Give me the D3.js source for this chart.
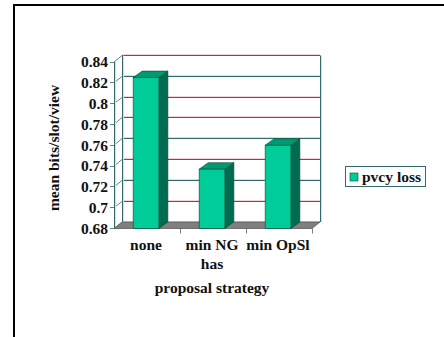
<!DOCTYPE html>
<html>
<head>
<meta charset="utf-8">
<script src="https://cdn.jsdelivr.net/npm/d3@7"></script>
<style>
  html, body { margin: 0; padding: 0; background: #fff; }
  svg { display: block; }
  text { font-family: "Liberation Serif", "Times New Roman", serif; font-weight: bold; fill: #111; }
</style>
</head>
<body>
<svg id="chart" width="444" height="337"></svg>
<script>
// Data
const categories = ["none", "min NG\nhas", "min OpSl"];
const pvcyLoss = [0.825, 0.737, 0.760];
const yTicks = [0.68, 0.70, 0.72, 0.74, 0.76, 0.78, 0.80, 0.82, 0.84];
const seriesName = "pvcy loss";
const xTitle = "proposal strategy";
const yTitle = "mean bits/slot/view";

const svg = d3.select("#chart");
const fs = 15.5;

// outer frame (top and left edges)
svg.append("path")
  .attr("d", "M14,337 L14,5 L444,5")
  .attr("fill", "none").attr("stroke", "#000").attr("stroke-width", 2);

// 3D geometry: front plane via scales, back plane shifted by depth
const depth = { dx: 8, dy: -6.5 };
const x = d3.scaleBand().domain(categories).range([114, 312]).paddingInner(0).paddingOuter(0);
const y = d3.scaleLinear().domain([0.68, 0.84]).range([228.5, 62]);
const x0 = x.range()[0], x1 = x.range()[1];
const snap = v => Math.round(v - 0.5) + 0.5;

const gridColor = "#33696b";
const fringe = "#f8d2d5";

// back wall + side wall gridlines
const g = svg.append("g");
yTicks.forEach(t => {
  const yf = y(t), yb = snap(y(t) + depth.dy);
  g.append("line").attr("x1", x0 + depth.dx).attr("x2", x1 + depth.dx)
    .attr("y1", yb - 1).attr("y2", yb - 1).attr("stroke", fringe).attr("stroke-width", 1);
  g.append("line").attr("x1", x0 + depth.dx).attr("x2", x1 + depth.dx)
    .attr("y1", yb).attr("y2", yb).attr("stroke", gridColor).attr("stroke-width", 1);
  // side wall diagonal
  g.append("line").attr("x1", x0).attr("y1", yf).attr("x2", x0 + depth.dx).attr("y2", yb)
    .attr("stroke", gridColor).attr("stroke-width", 0.8);
  // axis tick
  g.append("line").attr("x1", x0 - 4).attr("x2", x0).attr("y1", snap(yf)).attr("y2", snap(yf))
    .attr("stroke", gridColor).attr("stroke-width", 0.8);
});
// wall vertical edges
[[x0, y(0.68), x0, y(0.84)],
 [x0 + depth.dx, y(0.68) + depth.dy, x0 + depth.dx, y(0.84) + depth.dy],
 [x1 + depth.dx, y(0.68) + depth.dy, x1 + depth.dx, y(0.84) + depth.dy]].forEach(d => {
  g.append("line").attr("x1", d[0] + 0.5).attr("y1", d[1]).attr("x2", d[2] + 0.5).attr("y2", d[3])
    .attr("stroke", gridColor).attr("stroke-width", 1);
  g.append("line").attr("x1", d[0] + 1.5).attr("y1", d[1]).attr("x2", d[2] + 1.5).attr("y2", d[3])
    .attr("stroke", fringe).attr("stroke-width", 1);
});

// floor
const yb0 = y(0.68);
svg.append("path")
  .attr("d", `M${x0},${yb0} L${x1},${yb0} L${x1 + depth.dx},${yb0 + depth.dy} L${x0 + depth.dx},${yb0 + depth.dy} Z`)
  .attr("fill", "#7f7f7f").attr("stroke", "#5a5a5a").attr("stroke-width", 0.8);

// category ticks under the floor
x.domain().forEach(c => {
  const xt = x(c) + x.bandwidth() + 0.5;
  svg.append("line").attr("x1", xt).attr("x2", xt).attr("y1", yb0).attr("y2", yb0 + 5)
    .attr("stroke", "#5a5a5a").attr("stroke-width", 0.8);
});

// bars
const barW = x.bandwidth() * 0.39;
const bars = svg.append("g");
categories.forEach((c, i) => {
  const v = pvcyLoss[i];
  const bx = x(c) + (x.bandwidth() - barW) / 2 - 1;
  const yt = y(v);
  const dx = depth.dx + 1, dy = depth.dy;
  // side face
  bars.append("path")
    .attr("d", `M${bx + barW},${yt} L${bx + barW + dx},${yt + dy} L${bx + barW + dx},${yb0 + dy} L${bx + barW},${yb0} Z`)
    .attr("fill", "#006b50").attr("stroke", "#004a37").attr("stroke-width", 0.6);
  // top face
  bars.append("path")
    .attr("d", `M${bx},${yt} L${bx + barW},${yt} L${bx + barW + dx},${yt + dy} L${bx + dx},${yt + dy} Z`)
    .attr("fill", "#009a72").attr("stroke", "#004a37").attr("stroke-width", 0.6);
  // front face
  bars.append("rect")
    .attr("x", bx).attr("y", yt).attr("width", barW).attr("height", yb0 - yt)
    .attr("fill", "#00cc99").attr("stroke", "#004a37").attr("stroke-width", 0.6);
});

// y tick labels
svg.append("g").selectAll("text").data(yTicks).join("text")
  .attr("x", 108).attr("y", d => y(d)).attr("dy", "0.35em")
  .attr("text-anchor", "end").attr("font-size", fs)
  .text(d => d3.format("")(+d.toFixed(2)));

// x category labels (multi-line)
categories.forEach(c => {
  const lines = c.split("\n");
  const t = svg.append("text").attr("text-anchor", "middle").attr("font-size", fs);
  lines.forEach((ln, k) => {
    t.append("tspan").attr("x", x(c) + x.bandwidth() / 2 - 1).attr("y", 250 + k * 19).text(ln);
  });
});

// axis titles
svg.append("text").attr("x", 212).attr("y", 293).attr("text-anchor", "middle")
  .attr("font-size", fs).text(xTitle);
svg.append("text").attr("transform", "translate(59,148) rotate(-90)")
  .attr("text-anchor", "middle").attr("font-size", fs).text(yTitle);

// legend
const lg = svg.append("g");
lg.append("rect").attr("x", 345.5).attr("y", 166.5).attr("width", 80).attr("height", 20)
  .attr("fill", "#fff").attr("stroke", gridColor).attr("stroke-width", 1);
lg.append("rect").attr("x", 350).attr("y", 173).attr("width", 8).attr("height", 8)
  .attr("fill", "#00cc99").attr("stroke", "#004a37").attr("stroke-width", 0.6);
lg.append("text").attr("x", 362).attr("y", 181.5).attr("font-size", fs).text(seriesName);
</script>
</body>
</html>
